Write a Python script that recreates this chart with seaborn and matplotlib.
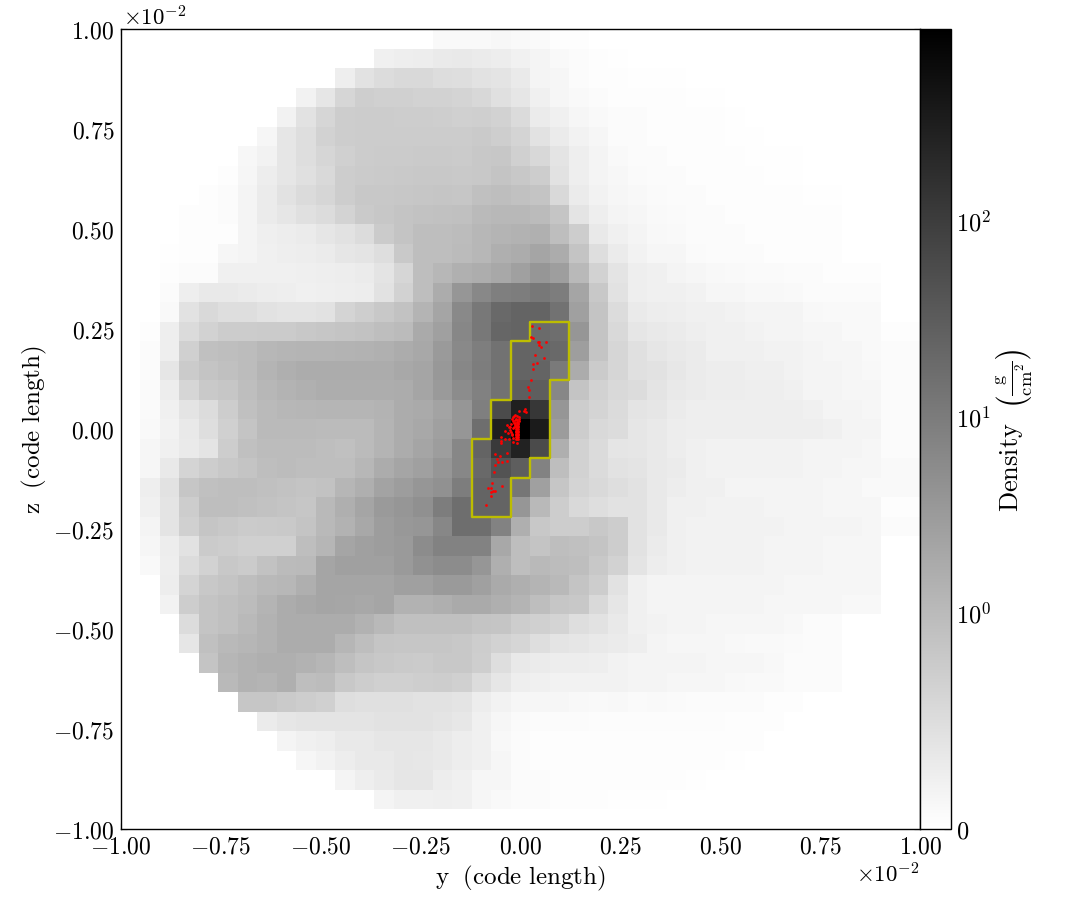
import numpy as np
import pandas as pd
import matplotlib
matplotlib.use("Agg")
import matplotlib.pyplot as plt
from matplotlib.colors import SymLogNorm
import seaborn as sns

sns.set_theme(style="ticks")
plt.rcParams["mathtext.fontset"] = "cm"
plt.rcParams["font.family"] = ["serif"]
plt.rcParams["font.serif"] = ["cmr10", "DejaVu Serif"]
plt.rcParams["axes.formatter.use_mathtext"] = True

FS_TICK = 17
FS_CBAR = 17.5
FS_EXP = 16.5
FS_LABEL = 18
N_CELLS = 41
AXIS_TICKS = [-1.0, -0.75, -0.5, -0.25, 0.0, 0.25, 0.5, 0.75, 1.0]
AXIS_MINOR = [round(-1 + 0.05 * i, 2) for i in range(41)]
AXIS_LABELS = ["-1.00", "-0.75", "-0.50", "-0.25", "0.00", "0.25", "0.50", "0.75", "1.00"]
CBAR_TICKS = [0, 1, 10, 100]
CBAR_LABELS = ["0", "10^{0}", "10^{1}", "10^{2}"]
VMAX = 955.0

# first non-empty column of each image row (top row first); the rest of a row is empty
row_first_col = [16, 13, 11, 9, 8, 7, 6, 5, 4, 3, 3, 2, 2, 2, 2, 1, 1, 1, 1, 1, 1,
                 1, 1, 1, 1, 1, 1, 1, 2, 2, 3, 3, 4, 5, 6, 7, 8, 9, 11, 13]
# projected density (g/cm^2)
row_density = [
    [.09,.10,.10,.12,.09,.08,.04,.03],
    [.22,.25,.27,.31,.33,.30,.26,.21,.16,.10,.07,.04,.02],
    [.25,.43,.51,.55,.55,.49,.48,.43,.40,.31,.17,.13,.07,.04,.03,.02,.02,.02],
    [.20,.37,.60,.71,.69,.68,.66,.65,.62,.57,.46,.37,.22,.14,.10,.07,.04,.03,.03,.03,.02,.02],
    [.20,.42,.59,.72,.74,.74,.72,.72,.71,.69,.70,.65,.52,.30,.22,.13,.10,.07,.06,.04,.04,.03,.03,.02],
    [.14,.37,.48,.65,.72,.74,.74,.74,.74,.74,.74,.77,.71,.62,.42,.30,.19,.13,.07,.06,.04,.04,.03,.03,.02,.02],
    [.12,.20,.36,.48,.60,.69,.74,.75,.75,.77,.77,.75,.80,.81,.69,.57,.39,.25,.16,.10,.07,.06,.04,.04,.03,.03,.02,.02,.02],
    [.04,.13,.26,.37,.45,.56,.72,.75,.77,.78,.80,.80,.78,.80,.86,.80,.72,.42,.25,.17,.12,.08,.07,.06,.04,.04,.03,.03,.02,.02],
    [.04,.06,.17,.30,.42,.53,.59,.72,.80,.80,.81,.82,.84,.82,.91,.94,.90,.85,.56,.29,.20,.14,.11,.08,.07,.06,.04,.04,.04,.03,.03,.02,.02],
    [.03,.04,.06,.17,.29,.36,.45,.51,.64,.77,.81,.86,.88,.90,.92,1.0,1.08,1.08,.98,.84,.40,.25,.17,.13,.10,.08,.06,.06,.04,.04,.04,.03,.03,.03],
    [.03,.03,.04,.17,.24,.27,.30,.36,.42,.51,.75,.85,.94,.94,.97,1.1,1.24,1.35,1.45,.94,.72,.33,.22,.16,.11,.10,.07,.06,.06,.04,.04,.04,.04,.03],
    [.02,.03,.04,.13,.17,.22,.25,.26,.29,.36,.39,.48,.78,.94,.94,.98,1.1,1.5,1.65,2.2,1.65,.86,.48,.30,.19,.14,.13,.08,.07,.07,.06,.04,.04,.03,.03],
    [.04,.07,.07,.22,.22,.22,.22,.24,.25,.27,.29,.39,.60,.94,1.1,1.45,1.6,1.95,2.6,3.7,2.8,1.03,.65,.39,.25,.22,.17,.14,.11,.10,.08,.08,.07,.06,.04,.04,.04],
    [.07,.25,.33,.33,.29,.27,.25,.22,.24,.25,.27,.43,.65,.94,1.65,3.7,6.2,8.6,9.6,11.4,9.6,2.2,.80,.43,.25,.22,.22,.19,.14,.13,.11,.11,.10,.07,.07,.07,.06],
    [.10,.43,.56,.48,.48,.43,.39,.39,.42,.62,.71,.80,.89,1.24,2.2,6.0,11.4,20,24,24,14,2.6,.86,.51,.31,.27,.25,.22,.22,.19,.17,.17,.16,.11,.10,.10,.10],
    [.04,.25,.52,.66,.74,.74,.75,.75,.80,.82,.85,.89,.94,.98,1.8,2.6,6.6,11.4,22,24,18,16.6,3.8,.86,.56,.36,.33,.29,.25,.22,.22,.20,.17,.17,.13,.13,.10,.10,.03,.03],
    [.06,.25,.69,.91,.94,.97,1.1,1.2,1.24,1.24,1.3,1.35,1.45,1.65,1.95,3.2,6.0,9,14,24,22,20,2.8,.86,.60,.45,.36,.33,.29,.22,.22,.22,.20,.20,.17,.14,.13,.10,.07,.07],
    [.07,.37,.75,.86,.91,.97,1.24,1.5,1.65,1.65,1.65,1.65,1.65,1.95,2.2,3.5,6.6,9.6,14,24,24,10.5,1.65,.75,.60,.45,.42,.35,.29,.26,.26,.24,.24,.20,.17,.16,.13,.11,.07,.07],
    [.08,.27,.60,.78,.83,.94,1.1,1.3,1.45,1.6,1.6,1.6,1.6,1.7,2.2,3.2,5.5,8,14,29,29,6.6,.86,.65,.56,.51,.39,.33,.29,.26,.26,.25,.25,.22,.17,.17,.14,.13,.07,.07],
    [.08,.22,.40,.51,.72,.91,1.0,1.1,1.16,1.2,1.2,1.2,1.3,1.65,1.8,2.3,3.8,8.6,60,295,126,3.8,.72,.62,.53,.39,.36,.30,.25,.25,.25,.25,.25,.25,.22,.17,.17,.14,.07,.07],
    [.10,.19,.33,.48,.69,.86,1.0,1.0,1.0,.98,.98,.98,1.24,1.65,1.95,2.6,3.8,16.6,295,955,345,3.0,.72,.56,.51,.36,.33,.26,.25,.25,.25,.25,.25,.25,.25,.22,.17,.17,.07,.07],
    [.13,.22,.31,.39,.72,.91,.97,.97,.97,.94,.91,.98,1.24,1.65,2.2,2.9,6.6,24,112,265,60,1.5,.65,.53,.38,.37,.33,.27,.22,.19,.19,.19,.19,.19,.17,.17,.16,.14,.07,.07],
    [.13,.33,.62,.72,.80,.85,.94,.97,.94,.94,.94,1.12,1.65,2.2,2.6,3.8,6.6,20,45,29,7.9,.94,.65,.53,.42,.39,.33,.29,.22,.20,.20,.20,.20,.20,.17,.17,.14,.14,.10,.10],
    [.25,.43,.82,.91,.94,.94,.91,.89,.86,.89,1.16,1.5,2.3,2.9,3.8,4.5,9.6,24,24,12,2.6,.82,.62,.55,.48,.42,.33,.27,.22,.22,.17,.17,.17,.17,.16,.14,.14,.10,.10,.10],
    [.22,.39,.72,.94,.94,.91,.89,.86,.82,1.03,1.5,2.2,3.2,3.8,4.7,9.6,16.6,24,24,3.8,1.03,.72,.56,.48,.43,.42,.33,.22,.22,.20,.19,.19,.17,.17,.16,.14,.13,.13,.04,.04],
    [.17,.39,.69,.84,.80,.75,.77,.78,.86,1.03,1.35,1.95,2.9,3.5,3.8,6.6,16.6,16.6,7.9,1.5,.80,.72,.72,.80,.72,.43,.33,.22,.20,.19,.19,.19,.19,.17,.17,.16,.16,.14,.07,.07],
    [.13,.27,.43,.75,.72,.68,.68,.69,.94,1.16,2.2,2.6,2.9,3.2,5.5,7.9,7.9,7.9,1.95,.94,.86,.94,.91,.86,.72,.43,.29,.22,.20,.19,.19,.19,.17,.17,.16,.14,.13,.13],
    [.10,.25,.51,.65,.80,.75,.88,.98,1.0,2.2,2.6,2.6,2.6,3.2,4.5,5.5,5.5,3.8,1.5,.94,1.03,.97,.94,.80,.65,.39,.27,.22,.20,.20,.20,.20,.17,.17,.16,.14,.13,.13],
    [.27,.62,.80,.85,.94,1.03,1.12,1.5,2.2,2.2,2.2,2.2,2.6,2.6,3.2,3.2,2.6,1.8,1.5,1.24,1.03,.86,.72,.43,.22,.17,.17,.17,.16,.16,.16,.16,.14,.14,.13,.13,.13],
    [.19,.72,.86,.91,.97,1.24,1.65,1.95,2.2,2.1,1.95,2.2,1.35,1.35,1.5,1.8,1.8,1.5,1.24,.94,.82,.80,.56,.36,.22,.17,.17,.17,.16,.16,.16,.14,.14,.13,.13,.11,.11],
    [.51,.86,.91,1.03,1.35,1.65,1.65,1.65,1.65,1.35,1.03,.91,.91,.91,.91,.86,.84,.72,.68,.62,.48,.43,.33,.22,.19,.17,.16,.14,.14,.14,.13,.11,.06,.06],
    [.36,.91,1.03,1.16,1.35,1.65,1.65,1.65,1.16,.94,.84,.82,.82,.82,.80,.72,.65,.60,.48,.39,.36,.33,.30,.25,.17,.14,.13,.13,.11,.10,.10,.08,.06,.06],
    [.86,1.16,1.35,1.5,1.5,1.35,1.16,.94,.84,.80,.77,.75,.80,.80,.71,.48,.33,.29,.27,.26,.25,.19,.17,.16,.16,.16,.14,.13,.13,.11,.07,.06,.06],
    [1.03,1.35,1.24,1.5,.94,.97,.80,.72,.68,.68,.71,.72,.68,.51,.36,.25,.22,.20,.20,.19,.19,.17,.17,.14,.14,.13,.11,.10,.10,.07,.06,.06],
    [.82,.82,.77,.72,.68,.48,.46,.46,.46,.43,.43,.39,.26,.19,.14,.13,.13,.11,.10,.11,.08,.10,.08,.07,.07,.06,.06,.04,.04],
    [.29,.37,.39,.39,.40,.40,.42,.42,.42,.39,.35,.22,.14,.08,.07,.06,.06,.05,.05,.05,.05,.05,.05,.05,.04,.04,.04],
    [.17,.22,.25,.33,.33,.36,.37,.36,.33,.27,.22,.11,.07,.04,.04,.04,.04,.04,.04,.04,.04,.04,.04,.04,.03],
    [.13,.20,.27,.33,.33,.36,.35,.33,.27,.22,.14,.07,.04,.04,.04,.03,.03,.03,.03,.03,.03,.03,.02],
    [.17,.25,.31,.37,.36,.26,.22,.14,.13,.07,.06,.04,.04,.04,.03,.03,.03,.03,.02],
    [.16,.22,.22,.24,.22,.13,.10,.07,.06,.04,.04,.03,.02,.02,.02],
]

# clump outline: image rows with their column span
clump_rows = [15, 16, 17, 18, 19, 20, 21, 22, 23, 24]
clump_start = [21, 20, 20, 20, 19, 19, 18, 18, 18, 18]
clump_end = [23, 23, 23, 22, 22, 22, 22, 21, 20, 20]

# particle positions, units of 1e-2 code length
particle_y = [.029,.047,.028,.031,.047,.045,.064,.047,.053,.037,.060,.031,.041,.031,.026,.020,.022,.022,
              -.004,.011,.014,.010,
              -.032,-.026,-.039,-.049,-.039,-.029,-.047,-.021,-.009,-.019,-.049,-.032,-.063,-.050,-.059,
              -.055,-.045,-.034,-.064,-.065,-.070,-.081,-.072,-.064,-.073,-.046,-.074,-.086,-.068,
              -.010,-.008,-.006,-.010,-.008,-.006,-.010,-.008,-.006,-.010,-.008,-.006,-.010,-.008,-.006,
              -.010,-.008,-.006,-.010,-.008,-.006,-.010,-.008,-.006,-.010,-.008,-.006,
              -.019,-.016,-.012,-.008,-.004,-.002,-.003,-.005,-.008,-.012,-.016,-.018,-.020,-.010,-.007,
              -.013,-.009,-.006,-.012,-.015,
              -.024,-.028,-.026,-.022,-.018,-.030,-.020,-.017]
particle_z = [.258,.253,.229,.227,.218,.217,.217,.211,.206,.185,.178,.163,.164,.150,.123,.105,.098,.079,
              .046,.051,.042,.046,
              .010,.004,-.004,-.021,-.025,-.025,-.029,-.012,-.036,-.033,-.035,-.061,-.063,-.068,-.075,
              -.083,-.082,-.081,-.089,-.107,-.134,-.148,-.148,-.154,-.158,-.143,-.168,-.191,-.155,
              .008,.008,.008,.004,.004,.004,.000,.000,.000,-.004,-.004,-.004,-.008,-.008,-.008,
              -.012,-.012,-.012,-.016,-.016,-.016,-.020,-.020,-.020,-.024,-.024,-.024,
              .030,.033,.034,.033,.030,.025,.020,.015,.012,.016,.014,.020,.026,.026,.022,
              .022,.017,.012,.010,.006,
              .012,.006,-.002,-.008,.002,-.010,-.016,-.022]

density = np.zeros((N_CELLS, N_CELLS))
for r, (first, vals) in enumerate(zip(row_first_col, row_density)):
    density[r, first:first + len(vals)] = vals
frame = pd.DataFrame(density)


def to_col(v):
    return (np.asarray(v) + 1.0) / 2.0 * N_CELLS


def to_row(v):
    return (1.0 - np.asarray(v)) / 2.0 * N_CELLS


W, H = 1085, 920
fig = plt.figure(figsize=(W / 100, H / 100), dpi=100)
ax = fig.add_axes([120.5 / W, 1 - 830 / H, 799.5 / W, 800 / H])
cax = fig.add_axes([920 / W, 1 - 830 / H, 30.5 / W, 800 / H])

norm = SymLogNorm(linthresh=1.0, linscale=1.0, vmin=0, vmax=VMAX, base=10)
sns.heatmap(frame, ax=ax, cbar_ax=cax, cmap="gray_r", norm=norm, square=False,
            xticklabels=False, yticklabels=False, linewidths=0, rasterized=True)

# clump outline
path_x, path_y = [], []
for r, e in zip(clump_rows, clump_end):
    path_x += [e, e]
    path_y += [r, r + 1]
for r, s in zip(clump_rows[::-1], clump_start[::-1]):
    path_x += [s, s]
    path_y += [r + 1, r]
path_x.append(path_x[0])
path_y.append(path_y[0])
ax.plot(path_x, path_y, color="#BDBD00", lw=1.7, solid_joinstyle="round", zorder=3)

sns.scatterplot(x=to_col(particle_y), y=to_row(particle_z), ax=ax, color="red", s=4.0,
                marker="o", linewidth=0, zorder=4)

ax.set_xlim(0, N_CELLS)
ax.set_ylim(N_CELLS, 0)
ax.set_xticks(to_col(AXIS_TICKS))
ax.set_yticks(to_row(AXIS_TICKS))
ax.set_xticks(to_col(AXIS_MINOR), minor=True)
ax.set_yticks(to_row(AXIS_MINOR), minor=True)
ax.set_xticklabels(["$" + s + "$" for s in AXIS_LABELS], fontsize=FS_TICK)
ax.set_yticklabels(["$" + s + "$" for s in AXIS_LABELS], fontsize=FS_TICK)
ax.tick_params(which="major", direction="in", length=4, width=0.8, top=True, right=True,
               bottom=True, left=True, pad=4.5, color="black", labelcolor="black")
ax.tick_params(which="minor", direction="in", length=2.4, width=0.7, top=True, right=True,
               bottom=True, left=True, color="black")
for sp in ax.spines.values():
    sp.set_visible(True)
    sp.set_color("black")
    sp.set_linewidth(1.0)

ax.set_xlabel(r"$\mathrm{y\ \ (code\ length)}$", fontsize=FS_LABEL, color="black",
              labelpad=4, visible=True)
ax.set_ylabel(r"$\mathrm{z\ \ (code\ length)}$", fontsize=FS_LABEL, color="black",
              labelpad=3, visible=True)

exp_text = r"$\times\mathdefault{10^{-2}}$"
fig.text(123 / W, 1 - 25 / H, exp_text, fontsize=FS_EXP, color="black", ha="left", va="baseline")
fig.text(919 / W, 1 - 883 / H, exp_text, fontsize=FS_EXP, color="black", ha="right", va="baseline")

cbar = ax.collections[0].colorbar
cbar.set_ticks(CBAR_TICKS)
cbar.set_ticklabels(["$" + s + "$" for s in CBAR_LABELS], fontsize=FS_CBAR)
cbar.minorticks_off()
cax.tick_params(which="major", direction="in", length=5, width=0.8, right=True, left=False,
                color="black", labelcolor="black", pad=4)
cbar.outline.set_visible(True)
cbar.outline.set_edgecolor("black")
cbar.outline.set_linewidth(1.0)
cbar.set_label(r"$\mathrm{Density}\ \ \left(\frac{\mathrm{g}}{\mathrm{cm}^{2}}\right)$",
               fontsize=FS_LABEL + 1, color="black", labelpad=3)

fig.savefig("out.png", dpi=100, facecolor="white")
